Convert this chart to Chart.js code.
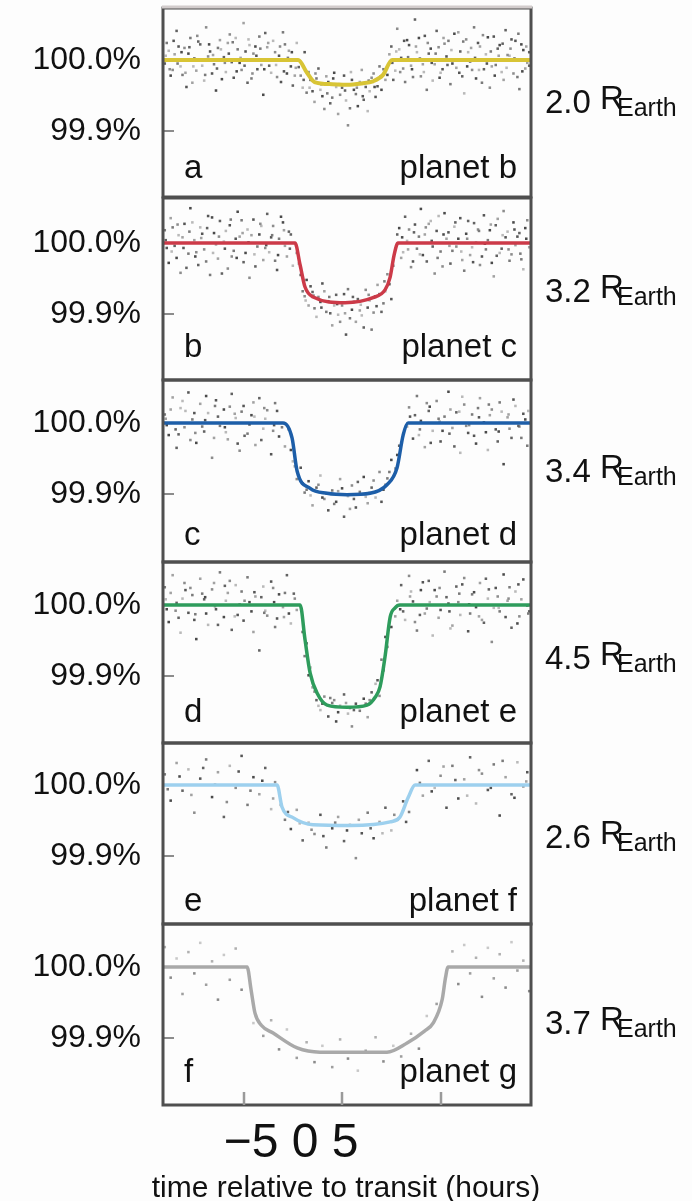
<!DOCTYPE html>
<html>
<head>
<meta charset="utf-8">
<script src="https://cdn.jsdelivr.net/npm/chart.js@4.4.1/dist/chart.umd.min.js"></script>
<style>
  body { margin: 0; background: #fdfdfd; width: 692px; height: 1201px; position: relative; overflow: hidden; }
  canvas { position: absolute; left: 0; }
</style>
</head>
<body>
<script>
/* six stacked transit light curves, one Chart.js chart per panel */

// --- data ---
const planetNames = ['planet b', 'planet c', 'planet d', 'planet e', 'planet f', 'planet g'];
const panelLetters = ['a', 'b', 'c', 'd', 'e', 'f'];
const radiiEarth = ['2.0', '3.2', '3.4', '4.5', '2.6', '3.7'];
const yTickValues = [100.0, 99.9];
const yTickTexts = ['100.0%', '99.9%'];
const xTickValues = [-5, 0, 5];
const xTickLabels = ['\u22125', '0', '5'];
const xTitle = 'time relative to transit (hours)';

// model fits (hours, relative flux %)
const modelHoursB = [-9.09, -2.23, -1.78, -1.4, -0.5, 0.25, 1.0, 1.57, 2.08, 2.54, 9.59];
const modelFluxB  = [100, 100, 99.982, 99.969, 99.966, 99.965, 99.967, 99.970, 99.979, 100, 100];
const modelHoursC = [-9.09, -2.39, -2.13, -1.88, -1.47, 0.15, 1.57, 2.18, 2.44, 2.64, 2.84, 9.59];
const modelFluxC  = [100, 100, 99.969, 99.938, 99.924, 99.916, 99.923, 99.934, 99.952, 99.983, 100, 100];
const modelHoursD = [-9.09, -2.99, -2.54, -2.28, -1.62, -0.76, 0.25, 1.42, 2.28, 2.79, 3.10, 3.35, 9.59];
const modelFluxD  = [100, 100, 99.979, 99.932, 99.908, 99.901, 99.899, 99.901, 99.913, 99.937, 99.983, 100, 100];
const modelHoursE = [-9.09, -2.13, -1.88, -1.62, -1.27, -0.76, 0.25, 1.27, 1.68, 1.93, 2.18, 2.44, 2.69, 2.94, 9.59];
const modelFluxE  = [100, 100, 99.951, 99.904, 99.876, 99.859, 99.856, 99.859, 99.870, 99.885, 99.927, 99.983, 99.996, 100, 100];
const modelHoursF = [-9.09, -3.30, -3.05, -2.49, -1.47, 0.4, 2.44, 2.94, 3.35, 3.71, 9.59];
const modelFluxF  = [100, 100, 99.969, 99.954, 99.944, 99.943, 99.948, 99.955, 99.982, 100, 100];
const modelHoursG = [-9.09, -4.82, -4.62, -4.42, -4.1, -3.50, -2.28, -1.12, 0.41, 2.28, 3.30, 4.2, 4.62, 5.08, 5.25, 5.38, 9.59];
const modelFluxG  = [100, 100, 99.968, 99.935, 99.918, 99.907, 99.886, 99.880, 99.880, 99.880, 99.893, 99.910, 99.921, 99.954, 99.985, 100, 100];

// photometry points [hours, flux %]
const dotsB = [[-8.9,100.024],[-8.7,99.978],[-8.5,100.008],[-8.4,100.041],[-8.2,99.991],[-8.0,100.017],[-7.9,99.962],[-7.7,100.031],[-7.5,100.002],[-7.4,99.985],[-7.2,100.022],[-7.0,99.971],[-6.9,100.046],[-6.7,100.012],[-6.5,99.994],[-6.4,99.957],[-6.2,100.028],[-6.0,100.004],[-5.9,99.983],[-5.7,100.036],[-5.5,99.975],[-5.3,100.015],[-5.2,99.996],[-5.0,100.052],[-4.8,99.968],[-4.7,100.021],[-4.5,100.009],[-4.3,99.987],[-4.2,100.033],[-4.0,99.951],[-3.8,100.018],[-3.7,99.992],[-3.5,100.027],[-3.3,99.976],[-3.2,100.006],[-3.0,100.039],[-2.8,99.981],[-2.7,100.013],[-2.5,99.964],[-2.3,100.024],
  [-2.1,99.978],[-1.9,100.011],[-1.8,99.954],[-1.6,99.972],[-1.4,99.941],[-1.2,99.988],[-1.1,99.958],[-0.9,99.931],[-0.7,99.969],[-0.5,99.947],[-0.4,99.982],[-0.2,99.924],[0.0,99.961],[0.2,99.943],[0.3,99.908],[0.5,99.972],[0.7,99.952],[0.8,99.935],[1.0,99.986],[1.2,99.962],[1.3,99.928],[1.5,99.975],[1.7,99.948],[1.9,99.991],[2.0,99.958],[2.2,99.972],
  [2.5,100.019],[2.7,99.985],[2.8,100.044],[3.0,100.003],[3.2,99.969],[3.3,100.028],[3.5,99.992],[3.7,100.057],[3.8,100.011],[4.0,99.977],[4.2,100.034],[4.3,99.958],[4.5,100.016],[4.7,99.994],[4.8,100.041],[5.0,99.982],[5.2,100.023],[5.3,100.005],[5.5,99.966],[5.7,100.037],[5.8,99.989],[6.0,100.012],[6.2,99.953],[6.3,100.029],[6.5,99.998],[6.7,100.046],[6.8,99.974],[7.0,100.019],[7.2,99.987],[7.3,100.008],[7.5,99.961],[7.7,100.033],[7.8,99.993],[8.0,100.021],[8.2,99.972],[8.3,100.042],[8.5,100.006],[8.7,99.981],[8.8,100.027],[9.0,99.959],[9.2,100.014],[9.4,99.996],
  [-9.0,99.995],[-8.8,100.013],[-8.6,99.986],[-8.3,100.019],[-8.1,99.979],[-7.8,100.009],[-7.6,99.968],[-7.3,100.026],[-7.1,99.992],[-6.8,100.005],[-6.6,99.981],[-6.3,100.017],[-6.1,99.973],[-5.8,100.024],[-5.6,99.997],[-5.4,100.031],[-5.1,99.986],[-4.9,100.012],[-4.6,99.974],[-4.4,100.019],[-4.1,99.993],[-3.9,100.038],[-3.6,99.982],[-3.4,100.011],[-3.1,99.969],[-2.9,100.022],[-2.6,99.991],[-2.4,99.978],
  [-2.2,99.990],[-2.0,99.961],[-1.7,99.983],[-1.5,99.956],[-1.3,99.974],[-1.0,99.949],[-0.8,99.977],[-0.6,99.939],[-0.3,99.962],[-0.1,99.951],[0.1,99.978],[0.4,99.932],[0.6,99.958],[0.9,99.969],[1.1,99.944],[1.4,99.956],[1.6,99.981],[1.8,99.963],[2.1,99.987],[2.3,99.979],
  [2.4,100.008],[2.6,99.972],[2.9,100.015],[3.1,99.988],[3.4,100.021],[3.6,99.976],[3.9,100.031],[4.1,99.994],[4.4,100.009],[4.6,99.971],[4.9,100.018],[5.1,99.987],[5.4,100.027],[5.6,99.995],[5.9,100.039],[6.1,99.977],[6.4,100.011],[6.6,99.986],[6.9,100.024],[7.1,99.968],[7.4,100.032],[7.6,99.991],[7.9,100.016],[8.1,99.983],[8.4,100.007],[8.6,100.029],[8.9,99.976],[9.1,100.022],[9.3,99.988],[9.5,100.011],
  [-8.95,100.006],[-8.75,99.987],[-8.55,100.027],[-8.35,99.995],[-8.15,100.011],[-7.95,99.982],[-7.75,100.018],[-7.55,99.991],[-7.35,100.034],[-7.15,100.001],[-6.95,99.979],[-6.75,100.022],[-6.55,100.007],[-6.35,99.988],[-6.15,100.015],[-5.95,99.996],[-5.75,100.009],[-5.55,100.025],[-5.35,99.984],[-5.15,100.003],[-4.95,99.992],[-4.75,100.029],[-4.55,99.981],[-4.35,100.006],[-4.15,100.016],[-3.95,99.987],[-3.75,100.024],[-3.55,100.001],[-3.35,99.993],[-3.15,100.019],[-2.95,99.984],[-2.75,100.003],[-2.55,100.011],[-2.35,99.989],
  [-1.95,99.972],[-1.65,99.961],[-1.35,99.981],[-1.05,99.966],[-0.75,99.953],[-0.45,99.974],[-0.15,99.966],[0.15,99.957],[0.45,99.983],[0.75,99.961],[1.05,99.949],[1.35,99.971],[1.65,99.962],[1.95,99.977],
  [2.55,99.996],[2.75,100.012],[2.95,99.983],[3.15,100.027],[3.35,100.004],[3.55,99.987],[3.75,100.019],[3.95,100.002],[4.15,99.983],[4.35,100.024],[4.55,99.996],[4.75,100.009],[4.95,99.975],[5.15,100.031],[5.35,99.993],[5.55,100.014],[5.75,100.001],[5.95,99.982],[6.15,100.026],[6.35,99.991],[6.55,100.017],[6.75,100.003],[6.95,99.986],[7.15,100.035],[7.35,99.995],[7.55,100.012],[7.75,99.978],[7.95,100.006],[8.15,100.023],[8.35,99.989],[8.55,100.016],[8.75,100.002],[8.95,100.037],[9.15,99.984],[9.35,100.019],[9.5,99.992]];
const dotsC = [[-9.0,100.018],[-8.8,99.972],[-8.7,100.035],[-8.5,99.996],[-8.3,100.011],[-8.2,99.958],[-8.0,100.027],[-7.8,99.985],[-7.7,100.049],[-7.5,100.004],[-7.3,99.969],[-7.2,100.022],[-7.0,99.991],[-6.8,100.038],[-6.7,99.955],[-6.5,100.014],[-6.3,99.978],[-6.2,100.031],[-6.0,100.002],[-5.8,99.964],[-5.7,100.025],[-5.5,99.989],[-5.3,100.044],[-5.2,100.009],[-5.0,99.973],[-4.8,100.019],[-4.7,99.951],[-4.5,100.033],[-4.3,99.995],[-4.2,100.012],[-4.0,99.976],[-3.8,100.041],[-3.7,99.987],[-3.5,100.024],[-3.3,99.962],[-3.2,100.006],[-3.0,100.029],[-2.8,99.981],[-2.7,100.016],[-2.5,99.968],
  [-2.3,99.986],[-2.1,99.955],[-2.0,99.932],[-1.8,99.948],[-1.7,99.912],[-1.5,99.931],[-1.3,99.896],[-1.2,99.924],[-1.0,99.943],[-0.8,99.903],[-0.7,99.918],[-0.5,99.884],[-0.3,99.927],[-0.2,99.899],[0.0,99.912],[0.2,99.871],[0.3,99.935],[0.5,99.906],[0.7,99.889],[0.8,99.921],[1.0,99.898],[1.2,99.934],[1.3,99.909],[1.5,99.878],[1.7,99.925],[1.8,99.941],[2.0,99.903],[2.2,99.932],[2.3,99.956],[2.5,99.921],[2.6,99.968],
  [2.9,100.021],[3.0,99.979],[3.2,100.037],[3.3,100.003],[3.5,99.966],[3.7,100.026],[3.8,99.992],[4.0,100.048],[4.2,100.012],[4.3,99.974],[4.5,100.031],[4.7,99.957],[4.8,100.017],[5.0,99.988],[5.2,100.042],[5.3,100.006],[5.5,99.971],[5.7,100.023],[5.8,99.995],[6.0,100.035],[6.2,99.961],[6.3,100.013],[6.5,99.983],[6.7,100.028],[6.8,100.001],[7.0,99.969],[7.2,100.039],[7.3,99.991],[7.5,100.018],[7.7,99.953],[7.8,100.025],[8.0,99.986],[8.2,100.045],[8.3,100.008],[8.5,99.975],[8.7,100.029],[8.8,99.997],[9.0,100.014],[9.2,99.963],[9.4,100.032],
  [-8.9,99.993],[-8.6,100.022],[-8.4,99.979],[-8.1,100.008],[-7.9,99.965],[-7.6,100.029],[-7.4,99.987],[-7.1,100.013],[-6.9,99.974],[-6.6,100.036],[-6.4,99.998],[-6.1,99.957],[-5.9,100.017],[-5.6,99.981],[-5.4,100.006],[-5.1,100.032],[-4.9,99.986],[-4.6,100.011],[-4.4,99.967],[-4.1,100.024],[-3.9,99.993],[-3.6,100.008],[-3.4,99.975],[-3.1,100.037],[-2.9,99.996],[-2.6,100.012],
  [-2.2,99.971],[-1.9,99.925],[-1.6,99.939],[-1.4,99.908],[-1.1,99.917],[-0.9,99.932],[-0.6,99.901],[-0.4,99.912],[-0.1,99.889],[0.1,99.928],[0.4,99.894],[0.6,99.917],[0.9,99.905],[1.1,99.881],[1.4,99.919],[1.6,99.902],[1.9,99.928],[2.1,99.915],[2.4,99.942],
  [2.7,99.992],[2.8,100.012],[3.1,99.987],[3.4,100.019],[3.6,99.974],[3.9,100.009],[4.1,99.983],[4.4,100.027],[4.6,99.995],[4.9,100.038],[5.1,99.967],[5.4,100.015],[5.6,99.989],[5.9,100.006],[6.1,99.976],[6.4,100.031],[6.6,99.994],[6.9,100.019],[7.1,99.981],[7.4,100.004],[7.6,99.972],[7.9,100.034],[8.1,99.992],[8.4,100.016],[8.6,99.984],[8.9,100.009],[9.1,99.977],[9.3,100.021],[9.5,99.994],
  [-8.95,100.004],[-8.65,99.988],[-8.35,100.026],[-8.05,99.993],[-7.75,100.016],[-7.45,99.981],[-7.15,100.007],[-6.85,100.021],[-6.55,99.986],[-6.25,100.009],[-5.95,99.992],[-5.65,100.033],[-5.35,99.979],[-5.05,100.014],[-4.75,100.001],[-4.45,99.984],[-4.15,100.027],[-3.85,99.997],[-3.55,100.011],[-3.25,99.983],[-2.95,100.018],[-2.65,99.992],
  [-1.85,99.919],[-1.45,99.926],[-1.05,99.909],[-0.65,99.924],[-0.25,99.914],[0.15,99.901],[0.55,99.924],[0.95,99.913],[1.35,99.927],[1.75,99.911],[2.15,99.946],
  [3.05,100.008],[3.35,99.991],[3.65,100.015],[3.95,99.984],[4.25,100.022],[4.55,100.003],[4.85,99.979],[5.15,100.012],[5.45,99.996],[5.75,100.029],[6.05,99.988],[6.35,100.006],[6.65,99.973],[6.95,100.017],[7.25,99.999],[7.55,100.026],[7.85,99.982],[8.15,100.011],[8.45,99.991],[8.75,100.019],[9.05,99.985],[9.35,100.006]];
const dotsD = [[-9.0,100.012],[-8.8,99.983],[-8.6,100.036],[-8.4,99.965],[-8.2,100.021],[-8.0,99.994],[-7.8,100.043],[-7.6,100.005],[-7.4,99.972],[-7.2,100.027],[-7.0,99.988],[-6.8,100.014],[-6.6,99.951],[-6.4,100.032],[-6.2,99.996],[-6.0,100.019],[-5.8,99.977],[-5.6,100.041],[-5.4,100.007],[-5.2,99.961],[-5.0,100.024],[-4.8,99.985],[-4.6,100.011],[-4.4,99.969],[-4.2,100.035],[-4.0,99.992],[-3.8,100.018],[-3.6,99.956],[-3.4,100.028],[-3.2,99.981],
  [-2.9,99.967],[-2.7,99.991],[-2.5,99.946],[-2.3,99.921],[-2.1,99.937],[-1.9,99.902],[-1.7,99.918],[-1.5,99.884],[-1.3,99.909],[-1.1,99.926],[-0.9,99.893],[-0.7,99.877],[-0.5,99.905],[-0.3,99.889],[-0.1,99.921],[0.1,99.868],[0.3,99.897],[0.5,99.912],[0.7,99.881],[0.9,99.903],[1.1,99.924],[1.3,99.887],[1.5,99.909],[1.7,99.895],[1.9,99.931],[2.1,99.906],[2.3,99.922],[2.5,99.948],[2.7,99.936],[2.9,99.968],[3.1,99.985],
  [3.4,100.022],[3.6,99.978],[3.8,100.038],[4.0,100.003],[4.2,99.966],[4.4,100.017],[4.6,99.989],[4.8,100.031],[5.0,99.974],[5.2,100.009],[5.4,100.044],[5.6,99.993],[5.8,100.015],[6.0,99.958],[6.2,100.026],[6.4,99.986],[6.6,100.012],[6.8,99.971],[7.0,100.035],[7.2,100.001],[7.4,99.962],[7.6,100.019],[7.8,99.991],[8.0,100.029],[8.2,99.942],[8.4,100.008],[8.6,99.979],[8.8,100.024],[9.0,99.995],[9.2,100.013],[9.4,99.968],
  [-8.9,99.997],[-8.7,100.019],[-8.3,99.984],[-8.1,100.031],[-7.7,99.976],[-7.5,100.014],[-7.1,99.995],[-6.9,100.038],[-6.5,99.979],[-6.3,100.009],[-5.9,99.987],[-5.7,100.023],[-5.3,99.971],[-5.1,100.016],[-4.7,99.998],[-4.5,100.029],[-4.1,99.976],[-3.9,100.006],[-3.5,99.989],[-3.3,100.017],[-3.05,99.994],
  [-2.6,99.962],[-2.4,99.939],[-2.0,99.915],[-1.6,99.898],[-1.2,99.913],[-0.8,99.901],[-0.4,99.886],[0.0,99.908],[0.4,99.879],[0.8,99.917],[1.2,99.896],[1.6,99.919],[2.0,99.889],[2.4,99.931],[2.8,99.955],
  [3.3,99.995],[3.7,100.011],[3.9,99.983],[4.3,100.028],[4.5,99.972],[4.9,100.006],[5.1,99.989],[5.5,100.019],[5.7,99.967],[6.1,100.037],[6.3,99.996],[6.7,99.982],[6.9,100.021],[7.3,99.987],[7.5,100.011],[7.9,99.974],[8.1,100.016],[8.5,99.992],[8.7,100.033],[9.1,99.979],[9.3,100.005],
  [-8.95,100.006],[-8.45,99.991],[-7.95,100.017],[-7.45,99.986],[-6.95,100.004],[-6.45,100.024],[-5.95,99.994],[-5.45,100.013],[-4.95,99.982],[-4.45,100.009],[-3.95,100.021],[-3.45,99.997],
  [-1.8,99.906],[-1.0,99.895],[-0.2,99.904],[0.6,99.893],[1.4,99.902],[2.2,99.913],
  [3.45,100.009],[3.95,99.991],[4.45,100.023],[4.95,100.002],[5.45,99.985],[5.95,100.016],[6.45,99.997],[6.95,100.008],[7.45,100.026],[7.95,99.988],[8.45,100.012],[8.95,99.996],[9.45,100.017]];
const dotsE = [[-9.0,100.025],[-8.8,99.976],[-8.6,100.042],[-8.4,100.003],[-8.2,99.961],[-8.0,100.031],[-7.8,99.989],[-7.6,100.014],[-7.4,99.952],[-7.2,100.037],[-7.0,100.008],[-6.8,99.972],[-6.6,100.022],[-6.4,99.994],[-6.2,100.046],[-6.0,99.983],[-5.8,100.017],[-5.6,99.965],[-5.4,100.028],[-5.2,100.001],[-5.0,99.978],[-4.8,100.039],[-4.6,99.991],[-4.4,100.012],[-4.2,99.936],[-4.0,100.026],[-3.8,99.985],[-3.6,100.033],[-3.4,99.969],[-3.2,100.015],[-3.0,99.997],[-2.8,100.042],[-2.6,99.974],[-2.4,100.009],
  [-2.0,99.962],[-1.9,99.928],[-1.7,99.901],[-1.5,99.884],[-1.3,99.866],[-1.1,99.852],[-0.9,99.871],[-0.7,99.843],[-0.5,99.862],[-0.3,99.836],[-0.1,99.858],[0.1,99.874],[0.3,99.847],[0.5,99.829],[0.7,99.861],[0.9,99.851],[1.1,99.868],[1.3,99.842],[1.5,99.877],[1.7,99.889],[1.9,99.872],[2.1,99.908],[2.3,99.941],[2.5,99.969],[2.7,99.984],
  [3.0,100.028],[3.2,99.979],[3.4,100.041],[3.6,100.005],[3.8,99.964],[4.0,100.021],[4.2,99.988],[4.4,100.034],[4.6,99.957],[4.8,100.012],[5.0,99.993],[5.2,100.047],[5.4,100.002],[5.6,99.971],[5.8,100.026],[6.0,99.986],[6.2,100.038],[6.4,99.963],[6.6,100.015],[6.8,99.997],[7.0,100.031],[7.2,99.975],[7.4,100.009],[7.6,99.948],[7.8,100.024],[8.0,99.991],[8.2,100.043],[8.4,100.006],[8.6,99.968],[8.8,100.019],[9.0,99.984],[9.2,100.036],[9.4,99.999],
  [-8.9,99.994],[-8.7,100.017],[-8.3,99.982],[-8.1,100.009],[-7.7,100.024],[-7.5,99.979],[-7.1,100.016],[-6.9,99.988],[-6.5,100.031],[-6.3,99.972],[-5.9,100.006],[-5.7,100.034],[-5.3,99.986],[-5.1,100.019],[-4.7,100.004],[-4.5,99.962],[-4.1,100.011],[-3.9,99.992],[-3.5,100.024],[-3.3,99.981],[-2.9,100.017],[-2.7,99.988],[-2.3,99.993],
  [-1.8,99.946],[-1.6,99.912],[-1.4,99.878],[-1.0,99.861],[-0.6,99.869],[-0.2,99.849],[0.2,99.862],[0.6,99.852],[1.0,99.857],[1.4,99.866],[1.8,99.894],[2.0,99.923],[2.2,99.955],
  [2.8,100.006],[3.1,99.991],[3.5,100.019],[3.7,99.976],[4.1,100.032],[4.3,99.995],[4.7,100.021],[4.9,99.982],[5.3,100.011],[5.5,99.967],[5.9,100.004],[6.1,100.029],[6.5,99.988],[6.7,100.018],[7.1,99.979],[7.3,100.037],[7.7,99.996],[7.9,100.012],[8.3,99.983],[8.5,100.025],[8.9,99.974],[9.1,100.008],[9.5,99.991],
  [-8.95,100.008],[-8.45,99.992],[-7.95,100.021],[-7.45,99.987],[-6.95,100.011],[-6.45,99.998],[-5.95,100.027],[-5.45,99.984],[-4.95,100.006],[-4.45,100.018],[-3.95,99.989],[-3.45,100.004],[-2.95,99.983],[-2.45,100.016],
  [-1.2,99.858],[-0.4,99.866],[0.4,99.855],[1.2,99.861],
  [2.95,99.994],[3.45,100.012],[3.95,99.986],[4.45,100.004],[4.95,100.024],[5.45,99.991],[5.95,100.016],[6.45,100.001],[6.95,99.984],[7.45,100.022],[7.95,99.996],[8.45,100.009],[8.95,100.029],[9.45,99.988]];
const dotsF = [[-9.0,100.015],[-8.7,99.978],[-8.4,100.031],[-8.1,99.992],[-7.8,100.022],[-7.5,99.961],[-7.2,100.009],[-6.9,100.036],[-6.6,99.983],[-6.3,100.018],[-6.0,99.955],[-5.7,100.027],[-5.4,99.996],[-5.1,100.041],[-4.8,99.972],[-4.5,100.011],[-4.2,99.987],[-3.9,100.024],[-3.6,99.966],[-3.4,100.004],
  [-3.1,99.972],[-2.9,99.951],[-2.6,99.938],[-2.3,99.965],[-2.0,99.922],[-1.7,99.947],[-1.4,99.931],[-1.1,99.958],[-0.8,99.912],[-0.5,99.939],[-0.2,99.955],[0.1,99.921],[0.4,99.944],[0.7,99.897],[1.0,99.932],[1.3,99.961],[1.6,99.925],[1.9,99.948],[2.2,99.968],[2.5,99.936],[2.8,99.951],[3.1,99.977],[3.4,99.962],
  [3.8,100.021],[4.1,99.985],[4.4,100.034],[4.7,99.996],[5.0,100.013],[5.3,99.968],[5.6,100.027],[5.9,99.981],[6.2,100.008],[6.5,100.039],[6.8,99.974],[7.1,100.016],[7.4,99.993],[7.7,100.029],[8.0,99.957],[8.3,100.011],[8.6,99.987],[8.9,100.032],[9.2,99.998],[9.4,100.018],
  [-8.85,99.994],[-8.25,100.012],[-7.65,99.986],[-7.05,100.024],[-6.45,100.001],[-5.85,99.976],[-5.25,100.019],[-4.65,99.992],[-4.05,100.006],[-3.5,99.981],
  [-2.75,99.962],[-2.15,99.946],[-1.55,99.937],[-0.95,99.928],[-0.35,99.947],[0.25,99.936],[0.85,99.951],[1.45,99.939],[2.05,99.932],[2.65,99.958],[3.25,99.948],
  [3.95,100.003],[4.55,99.991],[5.15,100.026],[5.75,100.007],[6.35,99.985],[6.95,100.021],[7.55,99.996],[8.15,100.034],[8.75,99.982],[9.35,100.005]];
const dotsG = [[-9.0,100.028],[-8.7,99.985],[-8.4,100.012],[-8.1,99.962],[-7.8,100.021],[-7.5,99.991],[-7.2,100.034],[-6.9,99.975],[-6.6,100.008],[-6.3,99.954],[-6.0,100.017],[-5.7,99.982],[-5.4,100.026],[-5.1,99.968],
  [-4.5,99.921],[-4.0,99.903],[-3.6,99.925],[-3.2,99.884],[-2.8,99.912],[-2.3,99.872],[-1.8,99.894],[-1.4,99.866],[-1.0,99.889],[-0.5,99.859],[-0.1,99.898],[0.3,99.871],[0.8,99.854],[1.2,99.882],[1.7,99.901],[2.1,99.867],[2.6,99.889],[3.0,99.874],[3.5,99.906],[3.9,99.885],[4.3,99.931],[4.8,99.948],
  [5.6,100.022],[5.9,99.976],[6.2,100.031],[6.5,99.991],[6.8,100.013],[7.1,99.958],[7.4,100.027],[7.7,99.984],[8.0,100.018],[8.3,99.971],[8.6,100.035],[8.9,99.995],[9.2,100.009],[9.5,99.966]];

// --- layout and style ---
const FONT = '"Liberation Sans", Arial, sans-serif';
const X_MIN = -9.09, X_MAX = 9.59;
const PX_PER_PCT = 710;
// [plot top, plot bottom, 100% line] in page pixels
const boxes = [[8, 197, 60], [198, 380, 243], [380, 562, 423], [562, 743, 605], [743, 924, 785], [924, 1105, 967]];
const labelBase = [178, 357, 545, 722, 911, 1082];
const radiusBase = [113, 302, 482, 669, 848, 1034];
const lineColors = ['#d8c435', '#cc3a48', '#1d5ea8', '#2e9c5c', '#9dd0ee', '#a9a9a9'];
const dotGrays = ['#7a7a7a', '#4a4a4a', '#a2a2a2', '#626262', '#b9b9b9', '#8c8c8c', '#555555'];
const dotGraysLight = ['#b0b0b0', '#8a8a8a', '#c8c8c8', '#9e9e9e'];

const models = [
  [modelHoursB, modelFluxB], [modelHoursC, modelFluxC], [modelHoursD, modelFluxD],
  [modelHoursE, modelFluxE], [modelHoursF, modelFluxF], [modelHoursG, modelFluxG]
];
const dots = [dotsB, dotsC, dotsD, dotsE, dotsF, dotsG];

function yTickLabel(v) {
  const i = yTickValues.findIndex(t => Math.abs(t - v) < 1e-6);
  return i >= 0 ? yTickTexts[i] : null;
}

const panelDecor = {
  id: 'panelDecor',
  beforeDatasetsDraw(chart) {
    const { ctx, chartArea: a, scales } = chart;
    ctx.save();
    ctx.strokeStyle = '#8c8c8c';
    ctx.lineWidth = 2;
    scales.y.ticks.forEach(t => {
      const py = Math.round(scales.y.getPixelForValue(t.value));
      ctx.beginPath(); ctx.moveTo(a.left, py); ctx.lineTo(a.left + 11, py); ctx.stroke();
    });
    ctx.restore();
  },
  afterDatasetsDraw(chart, args, opts) {
    const { ctx, chartArea: a, scales } = chart;
    const i = opts.index, off = opts.offset;
    ctx.save();
    // frame
    ctx.strokeStyle = '#4f4f4f';
    ctx.lineWidth = 3;
    ctx.strokeRect(a.left, a.top, a.right - a.left, a.bottom - a.top);
    if (i === 0) {
      ctx.strokeStyle = '#d2cccc';
      ctx.beginPath(); ctx.moveTo(a.left - 1, a.top - 1); ctx.lineTo(a.right + 1, a.top - 1); ctx.stroke();
    }
    // panel letter and planet name
    ctx.fillStyle = '#111';
    ctx.font = '33px ' + FONT;
    ctx.textBaseline = 'alphabetic';
    ctx.textAlign = 'left';
    ctx.fillText(panelLetters[i], 184, labelBase[i] - off);
    ctx.textAlign = 'right';
    ctx.fillText(planetNames[i], 517, labelBase[i] - off);
    // planet radius on the right
    const rb = radiusBase[i] - off;
    ctx.textAlign = 'left';
    ctx.fillText(radiiEarth[i], 545, rb);
    ctx.fillText('R', 600, rb - 4);
    ctx.font = '25px ' + FONT;
    ctx.fillText('Earth', 617, rb + 3);
    // time axis under the last panel
    if (opts.last) {
      ctx.strokeStyle = '#9a9a9a';
      ctx.lineWidth = 2.5;
      xTickValues.forEach(v => {
        const px = Math.round(scales.x.getPixelForValue(v));
        ctx.beginPath(); ctx.moveTo(px, a.bottom); ctx.lineTo(px, a.bottom - 13); ctx.stroke();
      });
      ctx.fillStyle = '#111';
      ctx.textAlign = 'center';
      ctx.font = '48px ' + FONT;
      ctx.fillText(xTickLabels.join(' '), 291, 1157 - off);
      ctx.font = '30px ' + FONT;
      ctx.fillText(xTitle, 346, 1197 - off);
    }
    ctx.restore();
  }
};

boxes.forEach(([top, bottom, line], i) => {
  const last = i === boxes.length - 1;
  const cTop = top - 4;
  const cH = last ? 1201 - cTop : bottom - top + 8;
  const cv = document.createElement('canvas');
  cv.width = 692;
  cv.height = cH;
  cv.style.top = cTop + 'px';
  document.body.appendChild(cv);

  const [mh, mf] = models[i];
  const palette = last ? dotGraysLight : dotGrays;
  new Chart(cv, {
    type: 'scatter',
    data: {
      datasets: [
        {
          type: 'line',
          data: mh.map((h, k) => ({ x: h, y: mf[k] })),
          borderColor: lineColors[i],
          borderWidth: i === 0 ? 4 : 3.5,
          pointRadius: 0,
          fill: false,
          cubicInterpolationMode: 'monotone'
        },
        {
          type: 'scatter',
          data: dots[i].map(([h, f]) => ({ x: h, y: f })),
          pointStyle: 'rect',
          pointRadius: 1.8,
          borderWidth: 0,
          backgroundColor: c => palette[c.dataIndex % palette.length]
        }
      ]
    },
    options: {
      responsive: false,
      maintainAspectRatio: false,
      animation: false,
      events: [],
      layout: { padding: { top: 4, bottom: last ? 1201 - bottom : 4, left: 0, right: 161 } },
      scales: {
        x: { type: 'linear', min: X_MIN, max: X_MAX, display: false },
        y: {
          type: 'linear',
          min: 100 - (bottom - line) / PX_PER_PCT,
          max: 100 + (line - top) / PX_PER_PCT,
          afterFit: s => { s.width = 163; s.paddingTop = 0; s.paddingBottom = 0; },
          grid: { display: false, drawTicks: false, tickLength: 0 },
          border: { display: false },
          ticks: {
            stepSize: 0.05,
            includeBounds: false,
            autoSkip: false,
            padding: 22,
            color: '#111',
            font: { family: FONT, size: 32 },
            callback: v => yTickLabel(v)
          }
        }
      },
      plugins: {
        legend: { display: false },
        tooltip: { enabled: false },
        panelDecor: { index: i, offset: cTop, last: last }
      }
    },
    plugins: [panelDecor]
  });
});
</script>
</body>
</html>
